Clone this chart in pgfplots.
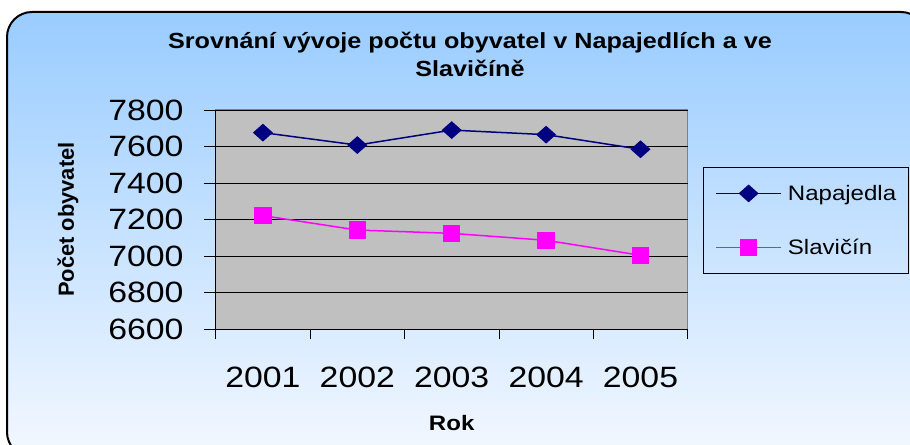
\documentclass[border=0pt]{standalone}
\usepackage{fontspec}
\setmainfont{Liberation Sans}[FakeStretch=1.15]
\newfontfamily\plainsans{Liberation Sans}
\usepackage{pgfplots}
\pgfplotsset{compat=1.18}
\definecolor{bgtop}{HTML}{99CCFF}
\definecolor{bgbot}{HTML}{F4F8FF}
\definecolor{plotgray}{HTML}{C0C0C0}
\definecolor{navyc}{HTML}{000080}
\definecolor{mag}{HTML}{FF00FF}
\begin{document}
\begin{tikzpicture}[x=1bp,y=1bp]
\useasboundingbox (0,0) rectangle (910,445);
\begin{scope}
\clip (0,0) rectangle (910,445);
\shade[top color=bgtop, bottom color=bgbot, rounded corners=25bp] (7,-12) rectangle (926,433);
\draw[line width=2bp, rounded corners=25bp] (7,-12) rectangle (926,433);
\end{scope}
\node[font=\bfseries\fontsize{22}{28}\selectfont, align=center] at (470,391) {Srovnání vývoje počtu obyvatel v Napajedlích a ve\\Slavičíně};
\begin{axis}[
  at={(215.7bp,115.7bp)}, anchor=south west,
  width=472bp, height=219.3bp, scale only axis,
  xmin=0.5, xmax=5.5, ymin=6600, ymax=7800,
  ytick={6600,6800,...,7800},
  xtick={1,2,3,4,5}, xticklabels={2001,2002,2003,2004,2005},
  minor xtick={0.5,1.5,2.5,3.5,4.5,5.5},
  axis lines=left, axis line style={-, black, line width=1bp},
  axis background/.style={fill=plotgray, draw=gray, line width=1.2bp},
  tick align=outside, major tick length=12bp, minor tick length=10bp,
  major x tick style={draw=none},
  tick style={black, line width=0.8bp},
  ymajorgrids, major grid style={black, line width=0.8bp},
  /pgf/number format/assume math mode=true,
  /pgf/number format/1000 sep={},
  yticklabel style={font=\fontsize{29.5}{29.5}\selectfont, anchor=east, inner sep=0pt, xshift=-20bp},
  xticklabel style={font=\fontsize{29.5}{29.5}\selectfont, anchor=north, inner sep=0pt, yshift=-25bp},
  ylabel={Počet obyvatel},
  ylabel style={font=\plainsans\bfseries\fontsize{22}{22}\selectfont, at={(axis description cs:-0.313,0.5)}, anchor=center},
  xlabel={Rok},
  xlabel style={font=\bfseries\fontsize{21}{21}\selectfont, at={(axis description cs:0.5,-0.427)}, anchor=center},
  legend style={at={(axis description cs:1.0324,0.740)}, anchor=north west, draw=black, fill=none, line width=0.8bp,
    font=\fontsize{21}{21}\selectfont, inner xsep=12bp, inner ysep=16bp, row sep=34bp, column sep=6bp,
    nodes={inner sep=0pt, text height=17.5bp, text depth=2.5bp}},
  legend cell align=left,
  legend image code/.code={\draw[mark repeat=2,mark phase=2,#1] plot coordinates {(0bp,0bp) (32.5bp,0bp) (65bp,0bp)};},
]
\addplot[navyc, line width=1.5bp, mark=diamond*, mark size=7.9bp, mark options={xscale=1.5, fill=navyc, draw=navyc}]
  coordinates {(1,7676) (2,7608) (3,7690) (4,7665) (5,7585)};
\addlegendentry{Napajedla}
\addplot[mag, line width=1.5bp, mark=square*, mark size=8bp, mark options={fill=mag, draw=mag}]
  coordinates {(1,7222) (2,7143) (3,7125) (4,7087) (5,7005)};
\addlegendentry{Slavičín}
\end{axis}
\end{tikzpicture}
\end{document}
